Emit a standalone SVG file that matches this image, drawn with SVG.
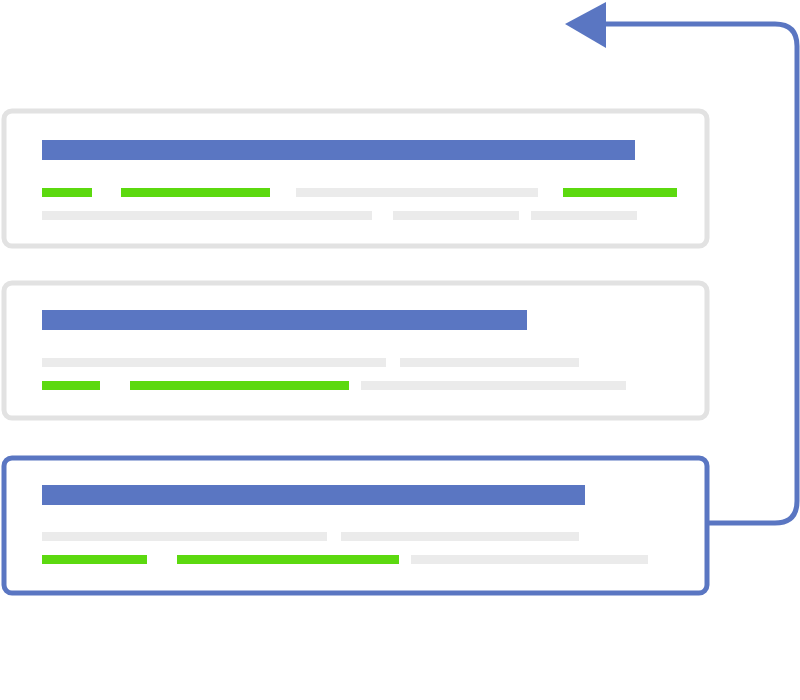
<svg xmlns="http://www.w3.org/2000/svg" width="800" height="700" viewBox="0 0 800 700">
<style>
.card{fill:#fff;stroke:#e2e2e2;stroke-width:5}
.sel{fill:#fff;stroke:#5a76c2;stroke-width:5}
.b{fill:#5a76c2}.g{fill:#5cd90f}.l{fill:#ebebeb}
</style>
<rect width="800" height="700" fill="#fff"/>
<g id="connectors">
<path d="M707 523 H775 Q797 523 797 501 V46 Q797 24 775 24 H600" fill="none" stroke="#5a76c2" stroke-width="5"/>
<polygon points="565,24 606,2 606,48" fill="#5a76c2"/>
</g>
<g id="card1">
<rect class="card" x="4" y="111" width="703" height="135" rx="8"/>
<rect class="b" x="42" y="140" width="593" height="20"/>
<rect class="g" x="42" y="188" width="50" height="9"/>
<rect class="g" x="121" y="188" width="149" height="9"/>
<rect class="l" x="296" y="188" width="242" height="9"/>
<rect class="g" x="563" y="188" width="114" height="9"/>
<rect class="l" x="42" y="211" width="330" height="9"/>
<rect class="l" x="393" y="211" width="126" height="9"/>
<rect class="l" x="531" y="211" width="106" height="9"/>
</g>
<g id="card2">
<rect class="card" x="4" y="283" width="703" height="135" rx="8"/>
<rect class="b" x="42" y="310" width="485" height="20"/>
<rect class="l" x="42" y="358" width="344" height="9"/>
<rect class="l" x="400" y="358" width="179" height="9"/>
<rect class="g" x="42" y="381" width="58" height="9"/>
<rect class="g" x="130" y="381" width="219" height="9"/>
<rect class="l" x="361" y="381" width="265" height="9"/>
</g>
<g id="card3">
<rect class="sel" x="4" y="458" width="703" height="135" rx="8"/>
<rect class="b" x="42" y="485" width="543" height="20"/>
<rect class="l" x="42" y="532" width="285" height="9"/>
<rect class="l" x="341" y="532" width="238" height="9"/>
<rect class="g" x="42" y="555" width="105" height="9"/>
<rect class="g" x="177" y="555" width="222" height="9"/>
<rect class="l" x="411" y="555" width="237" height="9"/>
</g>
</svg>
